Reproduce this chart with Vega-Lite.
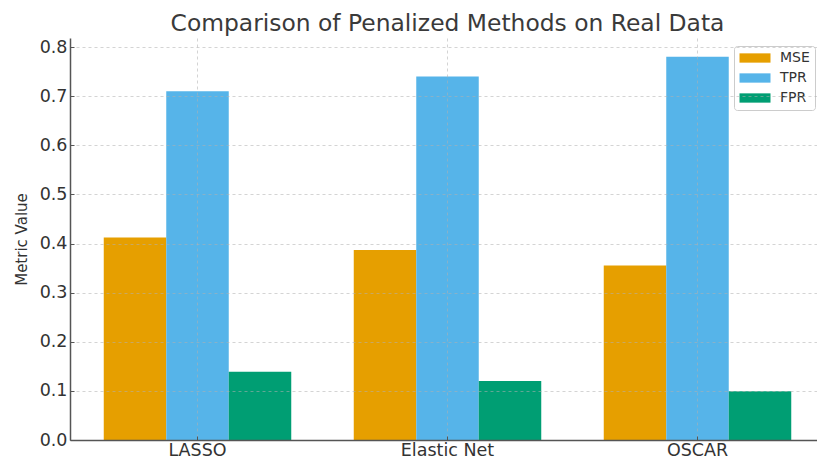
{
  "$schema": "https://vega.github.io/schema/vega-lite/v6.json",
  "autosize": "none",
  "padding": {"left": 70, "top": 38, "right": 0, "bottom": 22},
  "width": 755,
  "height": 402,
  "background": "white",
  "title": {
    "text": "Comparison of Penalized Methods on Real Data",
    "fontSize": 23.4,
    "font": "DejaVu Sans",
    "fontWeight": "normal",
    "color": "#3a3a3a",
    "anchor": "middle",
    "offset": 2
  },
  "data": {
    "values": [
      {"method": "LASSO", "metric": "MSE", "value": 0.412},
      {"method": "LASSO", "metric": "TPR", "value": 0.71},
      {"method": "LASSO", "metric": "FPR", "value": 0.139},
      {"method": "Elastic Net", "metric": "MSE", "value": 0.387},
      {"method": "Elastic Net", "metric": "TPR", "value": 0.74},
      {"method": "Elastic Net", "metric": "FPR", "value": 0.12},
      {"method": "OSCAR", "metric": "MSE", "value": 0.355},
      {"method": "OSCAR", "metric": "TPR", "value": 0.78},
      {"method": "OSCAR", "metric": "FPR", "value": 0.099}
    ]
  },
  "mark": {"type": "bar"},
  "encoding": {
    "x": {
      "field": "method",
      "type": "nominal",
      "sort": ["LASSO", "Elastic Net", "OSCAR"],
      "scale": {"paddingInner": 0.25, "paddingOuter": 0.135},
      "axis": {
        "title": null,
        "labelAngle": 0,
        "bandPosition": 0.5,
        "grid": true,
        "gridDash": [3, 3],
        "gridColor": "#b0b0b0",
        "gridOpacity": 0.55,
        "tickSize": -4,
        "labelPadding": 5,
        "zindex": 1
      }
    },
    "xOffset": {
      "field": "metric",
      "type": "nominal",
      "sort": ["MSE", "TPR", "FPR"],
      "scale": {"paddingInner": 0, "paddingOuter": 0}
    },
    "y": {
      "field": "value",
      "type": "quantitative",
      "scale": {"domain": [0, 0.8184], "nice": false, "zero": true},
      "axis": {
        "title": "Metric Value",
        "values": [0, 0.1, 0.2, 0.3, 0.4, 0.5, 0.6, 0.7, 0.8],
        "format": ".1f",
        "grid": true,
        "gridDash": [3, 3],
        "gridColor": "#b0b0b0",
        "gridOpacity": 0.55,
        "tickSize": -4,
        "labelPadding": 7,
        "titlePadding": 10,
        "zindex": 1
      }
    },
    "color": {
      "field": "metric",
      "type": "nominal",
      "sort": ["MSE", "TPR", "FPR"],
      "scale": {"domain": ["MSE", "TPR", "FPR"], "range": ["#E69F00", "#56B4E9", "#009E73"]},
      "legend": {
        "title": null,
        "orient": "none",
        "legendX": 664,
        "legendY": 8,
        "direction": "vertical",
        "symbolType": "M-3.1,-0.93H3.1V0.93H-3.1Z",
        "symbolSize": 100,
        "symbolOffset": 9,
        "symbolStrokeWidth": 0,
        "labelFontSize": 14,
        "labelOffset": 18,
        "labelColor": "#333333",
        "strokeColor": "#cccccc",
        "fillColor": "white",
        "cornerRadius": 3,
        "padding": 5,
        "rowPadding": 6
      }
    }
  },
  "config": {
    "view": {"stroke": null},
    "font": "DejaVu Sans",
    "axis": {
      "labelFont": "DejaVu Sans",
      "titleFont": "DejaVu Sans",
      "labelFontSize": 17.5,
      "titleFontSize": 15,
      "titleFontWeight": "normal",
      "labelColor": "#333333",
      "titleColor": "#333333",
      "domainColor": "#555555",
      "domainWidth": 1.5,
      "tickColor": "#555555",
      "tickWidth": 1
    },
    "legend": {"labelFont": "DejaVu Sans"}
  }
}
